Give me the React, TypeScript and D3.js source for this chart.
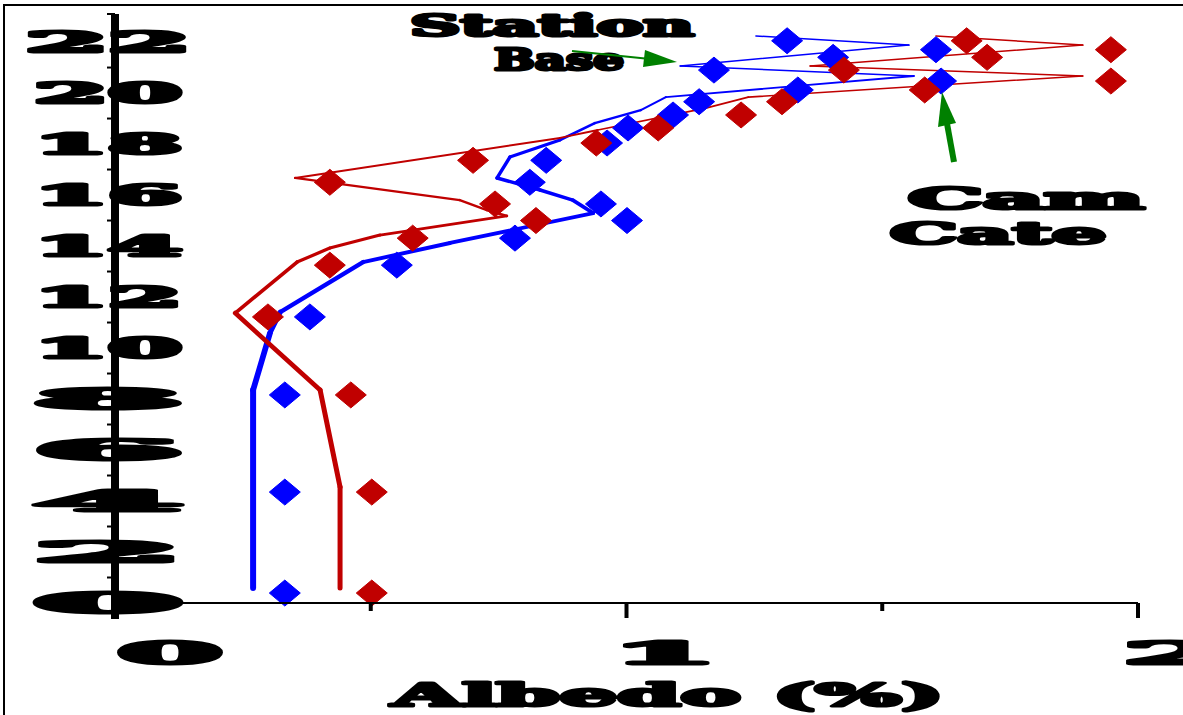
import React, { useEffect, useRef } from "react";
import * as d3 from "d3";

// levels shared by both observed profiles (vertical axis units)
const obsLevels = [22.05, 21.7, 21.4, 20.9, 20.47, 20.12, 19.66, 19.14, 18.63, 18.04, 17.36, 16.5, 15.65, 15.0, 14.31, 13.25, 11.22, 8.16, 4.35, 0.39];
const blueObs = [1.314, 1.605, 1.404, 1.171, 1.615, 1.335, 1.142, 1.091, 1.003, 0.962, 0.843, 0.811, 0.95, 1.001, 0.782, 0.551, 0.381, 0.332, 0.332, 0.332];
const redObs = [1.665, 1.947, 1.705, 1.425, 1.947, 1.583, 1.304, 1.224, 1.062, 0.941, 0.7, 0.42, 0.743, 0.823, 0.582, 0.42, 0.299, 0.461, 0.502, 0.502];

// model profiles
const blueModelX = [1.253, 1.552, 1.105, 1.562, 1.077, 1.028, 0.938, 0.87, 0.772, 0.747, 0.831, 0.895, 0.935, 0.655, 0.485, 0.323, 0.303, 0.27, 0.27];
const blueModelY = [22.24, 21.88, 21.06, 20.67, 19.84, 19.33, 18.82, 18.16, 17.49, 16.67, 16.2, 15.8, 15.29, 14.12, 13.37, 11.41, 10.59, 8.35, 0.59];
const redModelX = [1.605, 1.892, 1.359, 1.892, 1.238, 1.155, 0.944, 0.87, 0.352, 0.674, 0.727, 0.766, 0.518, 0.42, 0.356, 0.235, 0.401, 0.44, 0.44];
const redModelY = [22.24, 21.88, 21.06, 20.67, 19.84, 19.41, 18.55, 18.24, 16.67, 15.8, 15.41, 15.18, 14.43, 13.92, 13.37, 11.37, 8.35, 4.55, 0.59];

const yTicks = [0, 2, 4, 6, 8, 10, 12, 14, 16, 18, 20, 22];
const yTickLabels = ["0", "2", "4", "6", "8", "10", "12", "14", "16", "18", "20", "22"];
const yMinorTicks = [1, 3, 5, 7, 9, 11, 13, 15, 17, 19, 21, 23.1];
const xTicks = [0, 1, 2];
const xTickLabels = ["0", "1", "2"];
const xMinorTicks = [0.5, 1.5];

const topNote = ["Station", "Base"];
const sideNote = ["Cam", "Cate"];
const xTitle = "Albedo (%)";

const BLUE = "#0000ff";
const RED = "#c00000";
const GREEN = "#008000";

function App() {
  const ref = useRef<SVGSVGElement>(null);

  useEffect(() => {
    const svg = d3.select(ref.current);
    svg.selectAll("*").remove();

    const x = d3.scaleLinear().domain([0, 2]).range([115, 1138]);
    const y = d3.scaleLinear().domain([0, 23.1]).range([603, 14]);

    // frame
    svg.append("rect")
      .attr("x", 4).attr("y", 5).attr("width", 1190).attr("height", 730)
      .attr("fill", "white").attr("stroke", "black").attr("stroke-width", 2);

    const font = "'DejaVu Serif', serif";
    const blob = (tx: number, ty: number, txt: string, len: number, size: number, anchor = "start") =>
      svg.append("text")
        .attr("x", tx).attr("y", ty)
        .attr("text-anchor", anchor)
        .attr("font-family", font).attr("font-weight", "bold").attr("font-size", size)
        .attr("textLength", len).attr("lengthAdjust", "spacingAndGlyphs")
        .attr("fill", "black").attr("stroke", "black").attr("stroke-width", 3)
        .attr("stroke-linejoin", "round")
        .text(txt);

    // y tick labels, centred on the axis
    yTicks.forEach((t, i) => {
      blob(108, y(t) + 10, yTickLabels[i], i === yTicks.length - 1 ? 165 : 148, 28, "middle");
    });

    // x tick labels
    xTicks.forEach((t, i) => {
      blob(x(t) + (i === 0 ? 2 : -15), 664, xTickLabels[i], 106, 32);
    });

    // annotations and axis title
    blob(410, 36, topNote[0], 284, 30);
    blob(494, 70, topNote[1], 130, 30);
    blob(908, 209, sideNote[0], 236, 30);
    blob(890, 244, sideNote[1], 216, 30);
    blob(392, 706, xTitle, 552, 32);

    // model lines, width grows downward
    const drawModel = (xs: number[], ys: number[], color: string, w: d3.ScaleLinear<number, number>) => {
      for (let i = 0; i < xs.length - 1; i++) {
        svg.append("line")
          .attr("x1", x(xs[i])).attr("y1", y(ys[i]))
          .attr("x2", x(xs[i + 1])).attr("y2", y(ys[i + 1]))
          .attr("stroke", color)
          .attr("stroke-width", w((ys[i] + ys[i + 1]) / 2))
          .attr("stroke-linecap", "round");
      }
    };
    drawModel(blueModelX, blueModelY, BLUE,
      d3.scaleLinear().domain([21, 17, 13, 9]).range([1.5, 3.5, 4, 6]).clamp(true));
    drawModel(redModelX, redModelY, RED,
      d3.scaleLinear().domain([21, 17, 13, 9]).range([1.5, 2, 3.5, 5]).clamp(true));

    // diamonds
    const diamond = "M0,-13L15.5,0L0,13L-15.5,0Z";
    const drawObs = (xs: number[], color: string) => {
      svg.append("g").selectAll("path")
        .data(xs)
        .join("path")
        .attr("d", diamond)
        .attr("transform", (d, i) => `translate(${x(d)},${y(obsLevels[i])})`)
        .attr("fill", color)
        .attr("stroke", color).attr("stroke-width", 1).attr("stroke-linejoin", "round");
    };
    drawObs(blueObs, BLUE);
    drawObs(redObs, RED);

    // arrows
    svg.append("line")
      .attr("x1", 572).attr("y1", 51).attr("x2", 650).attr("y2", 59)
      .attr("stroke", GREEN).attr("stroke-width", 2);
    svg.append("path")
      .attr("d", "M645,50L677,62L643,67Z").attr("fill", GREEN);
    svg.append("line")
      .attr("x1", 954).attr("y1", 162).attr("x2", 946).attr("y2", 118)
      .attr("stroke", GREEN).attr("stroke-width", 6);
    svg.append("path")
      .attr("d", "M938,127L942,92L956,123Z").attr("fill", GREEN);

    // x axis
    svg.append("line")
      .attr("x1", x(0)).attr("x2", x(2)).attr("y1", y(0)).attr("y2", y(0))
      .attr("stroke", "black").attr("stroke-width", 2);
    xTicks.slice(1).forEach(t => {
      svg.append("line")
        .attr("x1", x(t)).attr("x2", x(t)).attr("y1", y(0)).attr("y2", y(0) + 15)
        .attr("stroke", "black").attr("stroke-width", 4);
    });
    xMinorTicks.forEach(t => {
      svg.append("line")
        .attr("x1", x(t)).attr("x2", x(t)).attr("y1", y(0)).attr("y2", y(0) + 8)
        .attr("stroke", "black").attr("stroke-width", 4);
    });

    // y axis
    svg.append("line")
      .attr("x1", 115).attr("x2", 115).attr("y1", y(23.1)).attr("y2", 619)
      .attr("stroke", "black").attr("stroke-width", 8);
    yMinorTicks.forEach(t => {
      svg.append("line")
        .attr("x1", 107).attr("x2", 115).attr("y1", y(t)).attr("y2", y(t))
        .attr("stroke", "black").attr("stroke-width", 2);
    });
  }, []);

  return (
    <svg ref={ref} width={1183} height={715}
      style={{ position: "absolute", left: 0, top: 0, background: "white" }} />
  );
}

export default App;
